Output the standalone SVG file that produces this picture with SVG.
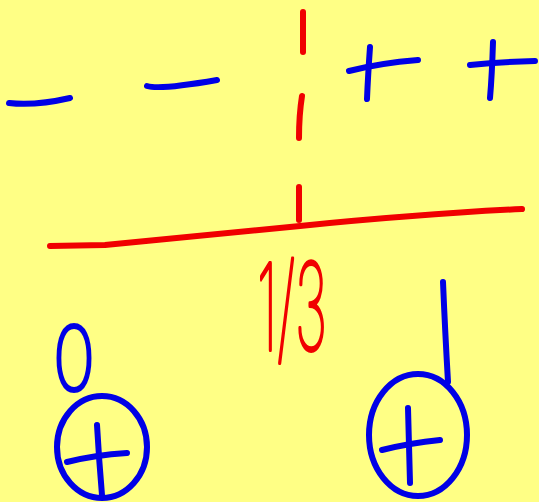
<svg xmlns="http://www.w3.org/2000/svg" width="539" height="502" viewBox="0 0 539 502">
<style>
.b{fill:none;stroke:#0000e6;stroke-width:6;stroke-linecap:round;stroke-linejoin:round}
.r{fill:none;stroke:#f00000;stroke-width:6;stroke-linecap:round;stroke-linejoin:round}
.rt{fill:#f00000;stroke:#f00000;stroke-width:4;stroke-linejoin:round;font-family:Inter,"DejaVu Sans","Liberation Sans",sans-serif;font-weight:100}
.bt{fill:#0000e6;stroke:#0000e6;stroke-width:4;stroke-linejoin:round;font-family:Inter,"DejaVu Sans","Liberation Sans",sans-serif;font-weight:100}
</style>
<rect width="539" height="502" fill="#ffff85"/>
<g id="signs-left">
<path class="b" d="M9,103 Q35,106 70,98"/>
<path class="b" d="M147,86 Q160,90 217,80"/>
</g>
<g id="signs-right">
<path class="b" d="M349,71 Q380,63 418,60"/>
<path class="b" d="M370,47 Q368,75 367,99"/>
<path class="b" d="M470,65 Q500,62 535,61"/>
<path class="b" d="M493,42 Q492,75 490,98"/>
</g>
<g id="axis">
<path class="r" d="M303,12 L303,52"/>
<path class="r" d="M302,96 Q299,115 299,138"/>
<path class="r" d="M299,187 L299,220"/>
<path class="r" d="M50,246 L105,245 Q200,236 300,226 Q420,214 522,209"/>
</g>
<g id="label-third">
<text class="rt" x="257" y="350" font-size="120" textLength="70" lengthAdjust="spacingAndGlyphs">1/3</text>
</g>
<g id="zero">
<text class="bt" x="53" y="390" font-size="88" textLength="42" lengthAdjust="spacingAndGlyphs">0</text>
<ellipse class="b" cx="102" cy="447" rx="45" ry="51"/>
<path class="b" d="M67,462 Q95,455 127,453"/>
<path class="b" d="M97,425 Q99,460 102,495"/>
</g>
<g id="pole">
<path class="b" d="M443,282 Q445,330 448,382"/>
<ellipse class="b" cx="418" cy="435" rx="49" ry="61"/>
<path class="b" d="M382,450 Q410,443 440,440"/>
<path class="b" d="M408,408 Q409,445 410,483"/>
</g>
</svg>
